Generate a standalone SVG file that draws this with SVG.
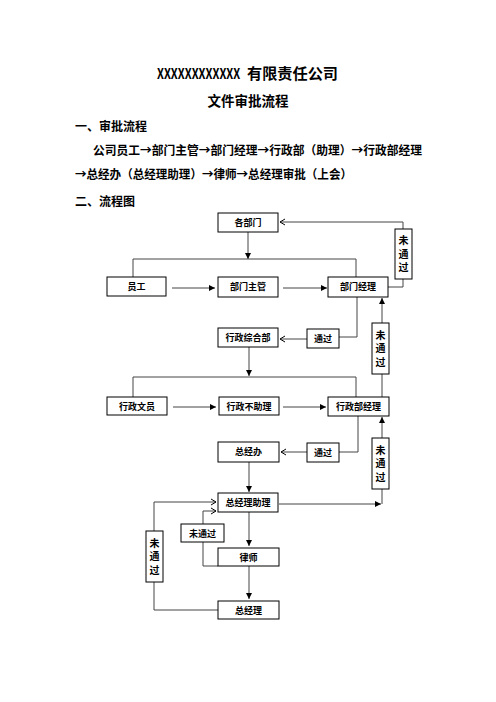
<svg xmlns="http://www.w3.org/2000/svg" width="496" height="702" viewBox="0 0 496 702">
<style>
text{font-family:"Noto Sans CJK SC","Liberation Sans",sans-serif;font-weight:700;fill:#000}
.box{fill:#fff;stroke:#000;stroke-width:1}
.lbl{font-size:9px;text-anchor:middle}
.vl{font-size:10px;text-anchor:middle;writing-mode:vertical-rl;letter-spacing:3.5px}
.ln{fill:none;stroke:#444;stroke-width:1}
.fa{marker-end:url(#fa)}
.oa{marker-end:url(#oa)}
</style>
<defs>
<marker id="fa" markerUnits="userSpaceOnUse" markerWidth="7" markerHeight="6" refX="6" refY="3" orient="auto"><path d="M0,0 L6,3 L0,6 z" fill="#000"/></marker>
<marker id="oa" markerUnits="userSpaceOnUse" markerWidth="8" markerHeight="8" refX="6" refY="4" orient="auto"><path d="M1,1 L6,4 L1,7" fill="none" stroke="#000" stroke-width="1"/></marker>
</defs>
<rect width="496" height="702" fill="#fff"/>
<g id="header">
<text transform="translate(157,79) scale(0.79,1)" font-family="Liberation Serif,serif" font-size="14">XXXXXXXXXXXX</text>
<text x="247" y="79" font-size="15" textLength="91" lengthAdjust="spacingAndGlyphs">有限责任公司</text>
<text x="248" y="106" font-size="13.5" text-anchor="middle">文件审批流程</text>
<text x="75" y="131" font-size="12">一、审批流程</text>
<text x="93" y="155" font-size="12" textLength="329" lengthAdjust="spacingAndGlyphs">公司员工→部门主管→部门经理→行政部（助理）→行政部经理</text>
<text x="75" y="179" font-size="12" textLength="277" lengthAdjust="spacingAndGlyphs">→总经办（总经理助理）→律师→总经理审批（上会）</text>
<text x="75" y="206" font-size="12">二、流程图</text>
</g>
<g id="connectors">
<path class="ln fa" d="M248,232 V259"/>
<path class="ln" d="M133,277 V259 H356 V277"/>
<path class="ln fa" d="M172,288 H215"/>
<path class="ln fa" d="M283,288 H327"/>
<path class="ln" d="M388,287 H403 V279"/>
<path class="ln oa" d="M403,229 V222 H280"/>
<path class="ln" d="M357,297 V337 H339"/>
<path class="ln oa" d="M307,339 H280"/>
<path class="ln fa" d="M382,323 V298"/>
<path class="ln" d="M382,397 V374"/>
<path class="ln fa" d="M249,347 V376"/>
<path class="ln" d="M133,397 V377 H356 V397"/>
<path class="ln fa" d="M173,407 H216"/>
<path class="ln fa" d="M283,407 H326"/>
<path class="ln" d="M358,416 V452 H339"/>
<path class="ln oa" d="M307,452 H281"/>
<path class="ln fa" d="M382,438 V417"/>
<path class="ln" d="M382,489 V504"/>
<path class="ln fa" d="M279,504 H381"/>
<path class="ln fa" d="M249,462 V492"/>
<path class="ln fa" d="M249,512 V546"/>
<path class="ln fa" d="M249,566 V599"/>
<path class="ln" d="M218,610 H154 V582"/>
<path class="ln oa" d="M154,531 V502 H216"/>
<path class="ln" d="M218,566 H203 V542"/>
<path class="ln oa" d="M203,524 V511 H216"/>
</g>
<g id="n-gebumen"><rect class="box" x="218" y="213" width="60" height="19"/><text class="lbl" x="248" y="226">各部门</text></g>
<g id="n-yuangong"><rect class="box" x="107" y="277" width="59" height="19"/><text class="lbl" x="136.5" y="290">员工</text></g>
<g id="n-bumenzhuguan"><rect class="box" x="218" y="277" width="60" height="20"/><text class="lbl" x="248" y="290">部门主管</text></g>
<g id="n-bumenjingli"><rect class="box" x="328" y="277" width="60" height="20"/><text class="lbl" x="358" y="290">部门经理</text></g>
<g id="n-weitongguo1"><rect class="box" x="395" y="229" width="17" height="50"/><text class="vl" x="403.5" y="255.5">未通过</text></g>
<g id="n-xingzhengzonghebu"><rect class="box" x="218" y="328" width="60" height="19"/><text class="lbl" x="248" y="341">行政综合部</text></g>
<g id="n-tongguo1"><rect class="box" x="307" y="329" width="32" height="19"/><text class="lbl" x="323" y="342">通过</text></g>
<g id="n-weitongguo2"><rect class="box" x="372" y="323" width="17" height="51"/><text class="vl" x="380.5" y="350">未通过</text></g>
<g id="n-xingzhengwenyuan"><rect class="box" x="107" y="397" width="60" height="18"/><text class="lbl" x="137" y="409.5">行政文员</text></g>
<g id="n-xingzhengbuzhuli"><rect class="box" x="219" y="397" width="60" height="18"/><text class="lbl" x="249" y="409.5">行政不助理</text></g>
<g id="n-xingzhengbujingli"><rect class="box" x="328" y="397" width="61" height="19"/><text class="lbl" x="358.5" y="410">行政部经理</text></g>
<g id="n-weitongguo3"><rect class="box" x="372" y="438" width="17" height="51"/><text class="vl" x="380.5" y="465">未通过</text></g>
<g id="n-zongjingban"><rect class="box" x="218" y="442" width="61" height="20"/><text class="lbl" x="248.5" y="455">总经办</text></g>
<g id="n-tongguo2"><rect class="box" x="307" y="443" width="32" height="19"/><text class="lbl" x="323" y="456">通过</text></g>
<g id="n-zongjinglizhuli"><rect class="box" x="218" y="493" width="60" height="19"/><text class="lbl" x="248" y="506">总经理助理</text></g>
<g id="n-weitongguo4"><rect class="box" x="181" y="524" width="43" height="18"/><text class="lbl" x="202.5" y="536.5">未通过</text></g>
<g id="n-lvshi"><rect class="box" x="218" y="548" width="61" height="18"/><text class="lbl" x="248.5" y="560.5">律师</text></g>
<g id="n-weitongguo5"><rect class="box" x="146" y="531" width="17" height="51"/><text class="vl" x="154.5" y="558">未通过</text></g>
<g id="n-zongjingli"><rect class="box" x="218" y="601" width="61" height="18"/><text class="lbl" x="248.5" y="613.5">总经理</text></g>
</svg>
